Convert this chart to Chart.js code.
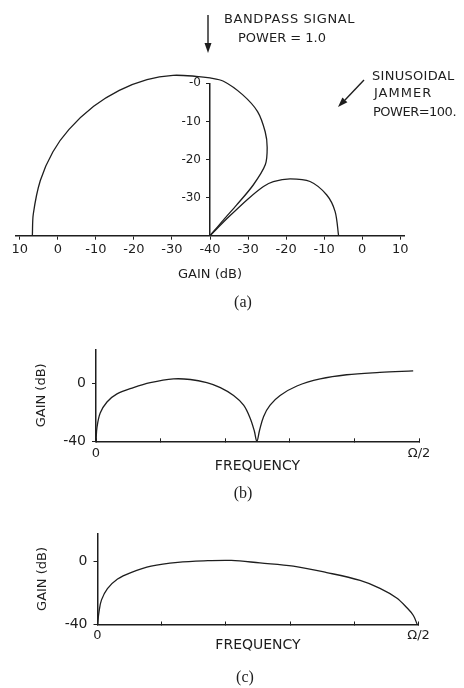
<!DOCTYPE html>
<html>
<head>
<meta charset="utf-8">
<title>Adaptive array gain</title>
<script src="https://cdn.jsdelivr.net/npm/chart.js@4.4.1/dist/chart.umd.min.js"></script>
<style>
  html, body { margin: 0; padding: 0; background: #fff; }
  #page { position: relative; width: 464px; height: 688px; overflow: hidden; color: #1e1e1e; font-family: 'DejaVu Sans', sans-serif; }
  canvas { position: absolute; left: 0; }
  .note { position: absolute; font-size: 13px; line-height: 13px; white-space: nowrap; }
  .cap { position: absolute; font-family: 'Liberation Serif', serif; font-size: 16px; line-height: 16px; transform: translate(-50%, -50%); }
  svg { position: absolute; left: 0; top: 0; }
</style>
</head>
<body>
<div id="page">
  <canvas id="pattern" width="464" height="290" style="top:0"></canvas>
  <canvas id="responseB" width="464" height="150" style="top:335px"></canvas>
  <canvas id="responseC" width="464" height="150" style="top:519px"></canvas>

  <svg width="464" height="688">
    <line x1="208" y1="15" x2="208" y2="44" stroke="#1e1e1e" stroke-width="1.4"/>
    <polygon points="204.5,43 211.5,43 208,53" fill="#1e1e1e"/>
    <line x1="364" y1="80" x2="345" y2="100" stroke="#1e1e1e" stroke-width="1.4"/>
    <polygon points="347.4,102.2 342.4,97.4 338,107" fill="#1e1e1e"/>
  </svg>

  <div class="note" style="left:224px;top:11.8px;letter-spacing:0.6px">BANDPASS SIGNAL</div>
  <div class="note" style="left:238px;top:30.8px">POWER = 1.0</div>
  <div class="note" style="left:372px;top:68.5px;letter-spacing:0.3px">SINUSOIDAL</div>
  <div class="note" style="left:374px;top:86.2px;letter-spacing:1px">JAMMER</div>
  <div class="note" style="left:373px;top:104.5px;letter-spacing:-0.5px">POWER=100.</div>

  <div class="cap" style="left:243px;top:302px">(a)</div>
  <div class="cap" style="left:243px;top:493px">(b)</div>
  <div class="cap" style="left:245px;top:677px">(c)</div>
</div>

<script>
const INK = '#1e1e1e';
const FLOOR_DB = -40;

// (a) directional pattern, look angle in degrees (0 = right, 180 = left)
const mainLobeAngle = [180, 173, 162, 152, 143, 132, 122, 112, 103, 95, 90, 85, 77, 69, 62, 57, 52, 49.5, 49, 49.5, 47];
const mainLobeGain = [6.7, 6.8, 6.9, 6.8, 6.4, 5.7, 5.0, 4.2, 3.2, 2.0, 1.4, 0.7, -2.0, -5.1, -9.1, -12.4, -16.4, -22.5, -29.3, -34.6, -40];
const sideLobeAngle = [45, 45, 44, 42.6, 40.5, 35.3, 28.4, 19.2, 10.9, 0];
const sideLobeGain = [-40, -33, -26, -20.9, -18.1, -14.2, -10.1, -7.5, -6.5, -6.2];

// radius measured from the -40 dB floor
const ringTicks = [-50, -40, -30, -20, -10, 0, 10, 20, 30, 40, 50];
const ringLabels = ['10', '0', '-10', '-20', '-30', '-40', '-30', '-20', '-10', '0', '10'];
const radialTicks = [10, 20, 30, 40];
const radialLabels = ['-30', '-20', '-10', '-0'];

// (b) and (c) gain vs frequency, frequency as a fraction of Ω/2
const freqB = [0, 0.003, 0.013, 0.034, 0.065, 0.116, 0.168, 0.24, 0.292, 0.343, 0.385, 0.426, 0.457, 0.477, 0.49, 0.498, 0.506, 0.519, 0.539, 0.57, 0.622, 0.694, 0.776, 0.879, 0.982];
const gainB = [-40, -30.4, -20.4, -12.7, -7.1, -2.7, 0.7, 3.3, 2.9, 0.7, -2.7, -8.2, -14.9, -23.8, -32.7, -40, -32.7, -22.7, -14.9, -8.2, -1.6, 3.3, 6.2, 7.8, 8.9];
const freqC = [0, 0.005, 0.0125, 0.031, 0.0625, 0.104, 0.167, 0.25, 0.344, 0.417, 0.506, 0.61, 0.714, 0.818, 0.88, 0.932, 0.963, 0.984, 0.996];
const gainC = [-40, -31.5, -24.4, -17.3, -11.2, -7.1, -3.0, -0.6, 0.4, 0.6, -1.0, -3.0, -7.1, -12.1, -17.1, -23.2, -29.2, -34.3, -40];

const freqTicks = [0, 0.2, 0.4, 0.6, 0.8, 1];
const freqLabels = ['0', '', '', '', '', 'Ω/2'];
const gainTicks = [-40, 0];
const gainLabels = ['-40', '0'];

Chart.defaults.font.family = "'DejaVu Sans', sans-serif";
Chart.defaults.color = INK;

const fixedTicks = (values) => (scale) => {
    scale.ticks = values.map((value) => ({ value }));
};

function polarPoints(angles, gains) {
    return angles.map((deg, i) => {
        const r = Math.max(gains[i] - FLOOR_DB, 0);
        const t = (deg * Math.PI) / 180;
        return { x: r * Math.cos(t), y: r * Math.sin(t) };
    });
}

function curve(points, extra) {
    return {
        data: points,
        showLine: true,
        borderColor: INK,
        borderWidth: 1.3,
        pointRadius: 0,
        fill: false,
        ...extra,
    };
}

new Chart(document.getElementById('pattern'), {
    type: 'scatter',
    data: {
        datasets: [
            curve(polarPoints(mainLobeAngle, mainLobeGain), { tension: 0.3, clip: false }),
            curve(polarPoints(sideLobeAngle, sideLobeGain), { tension: 0.3, clip: false }),
        ],
    },
    options: {
        responsive: false,
        animation: false,
        events: [],
        layout: { padding: { left: 16, right: 60, top: 83.3, bottom: 0 } },
        plugins: { legend: { display: false }, tooltip: { enabled: false } },
        scales: {
            x: {
                type: 'linear',
                min: -51,
                max: 51,
                afterBuildTicks: fixedTicks(ringTicks),
                afterFit: (s) => { s.height = 54.3; },
                border: { color: INK, width: 1.5 },
                grid: { drawOnChartArea: false, tickLength: 4, color: INK, lineWidth: 1 },
                ticks: { autoSkip: false, maxRotation: 0, padding: 2, font: { size: 13 }, callback: (v, i) => ringLabels[i] },
                title: { display: true, text: 'GAIN (dB)', font: { size: 13 }, padding: { top: 0, bottom: 8 } },
            },
            y: {
                type: 'linear',
                position: 'center',
                min: 0,
                max: 40,
                afterBuildTicks: fixedTicks(radialTicks),
                border: { color: INK, width: 1.5 },
                grid: { drawOnChartArea: false, tickLength: 3, color: INK, lineWidth: 1 },
                ticks: { padding: 6, font: { size: 12 }, callback: (v, i) => radialLabels[i] },
            },
        },
    },
});

function responseChart(id, freq, gain, box) {
    return new Chart(document.getElementById(id), {
        type: 'scatter',
        data: {
            datasets: [curve(freq.map((f, i) => ({ x: f, y: gain[i] })), { tension: 0.35 })],
        },
        options: {
            responsive: false,
            animation: false,
            events: [],
            layout: { padding: { left: 0, right: box.padRight, top: 10, bottom: 0 } },
            plugins: { legend: { display: false }, tooltip: { enabled: false } },
            scales: {
                x: {
                    type: 'linear',
                    min: 0,
                    max: 1,
                    afterBuildTicks: fixedTicks(freqTicks),
                    afterFit: (s) => { s.height = box.axisHeight; },
                    border: { color: INK, width: 1.5 },
                    grid: { drawOnChartArea: false, tickLength: -3, color: INK, lineWidth: 1 },
                    ticks: { autoSkip: false, maxRotation: 0, padding: box.xLabelPad, font: { size: 13 }, callback: (v, i) => freqLabels[i] },
                    title: { display: true, text: 'FREQUENCY', font: { size: 14 }, padding: { top: 0, bottom: box.xTitlePad } },
                },
                y: {
                    type: 'linear',
                    min: -40,
                    max: box.yMax,
                    afterBuildTicks: fixedTicks(gainTicks),
                    afterFit: (s) => { s.width = box.axisWidth; },
                    border: { color: INK, width: 1.5 },
                    grid: { drawOnChartArea: false, tickLength: 4, color: INK, lineWidth: 1 },
                    ticks: { padding: 6, font: { size: 14 }, callback: (v, i) => gainLabels[i] },
                    title: { display: true, text: 'GAIN (dB)', font: { size: 13 }, padding: { top: box.yTitlePad, bottom: 0 } },
                },
            },
        },
    });
}

responseChart('responseB', freqB, gainB, {
    yMax: 23.8, axisWidth: 96, axisHeight: 43.7, padRight: 45,
    yTitlePad: 34, xLabelPad: 8, xTitlePad: 10.4,
});

responseChart('responseC', freqC, gainC, {
    yMax: 17.7, axisWidth: 97.5, axisHeight: 44.5, padRight: 45.5,
    yTitlePad: 35.2, xLabelPad: 6.2, xTitlePad: 15.3,
});
</script>
</body>
</html>
